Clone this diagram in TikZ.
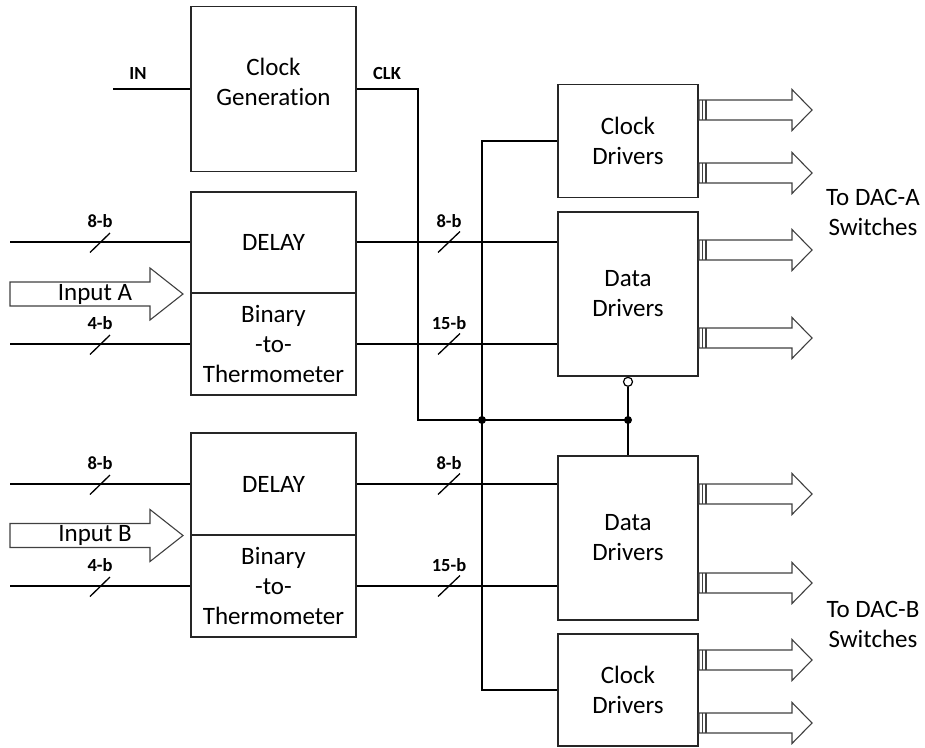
\documentclass[tikz,border=0pt]{standalone}
\usepackage{fontspec}
\setmainfont{Carlito}[Ligatures=NoCommon]
\newcommand\mysizemain{\fontsize{25}{30}\selectfont}
\newcommand\mysizelbl{\fontsize{18.5}{22}\selectfont}
\begin{document}
\begin{tikzpicture}[x=1pt,y=-1pt,
  wire/.style={line width=1.6pt, draw=black},
  tick/.style={line width=1.3pt, draw=black},
  blk/.style={draw=black!85, line width=1.4pt, inner sep=0pt, align=center, font=\mysizemain},
  bus/.style={draw=black!75, line width=1.1pt, fill=white, line join=miter},
  lbl/.style={font=\mysizelbl\bfseries, inner sep=0pt},
  txt/.style={font=\mysizemain, align=center, inner sep=0pt},
  jdot/.style={circle, fill=black, inner sep=0pt, minimum size=8pt},
  bubble/.style={circle, draw=black, line width=1.2pt, fill=white, inner sep=0pt, minimum size=9pt}]
\useasboundingbox (0,0) rectangle (925,747);

% ---------- blocks ----------
\node[blk, minimum width=165pt, minimum height=165pt] (cg) at (273.5,89) {};
\node[txt] (cgt) at (273.5,82) {Clock\\Generation};

\node[blk, minimum width=165pt, minimum height=101pt] (dlA) at (273.5,242.5) {DELAY};
\node[blk, minimum width=165pt, minimum height=102pt] (btA) at (273.5,344) {Binary\\-to-\\Thermometer};
\node[blk, minimum width=165pt, minimum height=102pt] (dlB) at (273.5,484) {DELAY};
\node[blk, minimum width=165pt, minimum height=102pt] (btB) at (273.5,586) {Binary\\-to-\\Thermometer};

\node[blk, minimum width=140pt, minimum height=113pt] (cdA) at (628,141) {Clock\\Drivers};
\node[blk, minimum width=140pt, minimum height=164pt] (ddA) at (628,294) {Data\\Drivers};
\node[blk, minimum width=140pt, minimum height=164pt] (ddB) at (628,538) {Data\\Drivers};
\node[blk, minimum width=140pt, minimum height=112pt] (cdB) at (628,690) {Clock\\Drivers};

% ---------- clock generation ----------
\coordinate (inIN) at (113,89);
\draw[wire] (inIN) -- (cg.west);
\node[lbl] (lIN) at (138,73) {IN};
\node[lbl] (lCLK) at (387,73) {CLK};
\coordinate (clkc) at (418,89);
\coordinate (clkd) at (418,420);
\coordinate (jA) at (482,420);
\coordinate (jB) at (628,420);
\draw[wire] (cg.east) -- (clkc) -- (clkd) -- (jB);
\node[bubble, anchor=north] (bub) at (ddA.south) {};
\draw[wire] (bub.south) -- (jB) -- (ddB.north);
\coordinate (ctop) at (482,141);
\coordinate (cbot) at (482,690);
\draw[wire] (cdA.west) -- (ctop) -- (cbot) -- (cdB.west);
\node[jdot] (dA) at (jA) {};
\node[jdot] (dB) at (jB) {};

% ---------- input side lines ----------
\coordinate (a8) at (10,242);
\coordinate (a4) at (10,344);
\coordinate (b8) at (10,484);
\coordinate (b4) at (10,586);
\draw[wire] (a8) -- (a8 -| dlA.west);
\draw[wire] (a4) -- (btA.west);
\draw[wire] (b8) -- (dlB.west);
\draw[wire] (b4) -- (btB.west);
\draw[wire] (a8 -| dlA.east) -- (a8 -| ddA.west);
\draw[wire] (btA.east) -- (btA.east -| ddA.west);
\draw[wire] (dlB.east) -- (dlB.east -| ddB.west);
\draw[wire] (btB.east) -- (btB.east -| ddB.west);

% bus ticks and labels
\foreach \yy/\tt in {242/8-b, 344/4-b, 484/8-b, 586/4-b}{
  \draw[tick, shift={(100,\yy)}] (-10,10.5) -- (10,-9);
  \node[lbl] at (100,\yy-21) {\tt};
}
\foreach \yy/\tt in {242/8-b, 344/15-b, 484/8-b, 586/15-b}{
  \draw[tick, shift={(449,\yy)}] (-11,10.5) -- (11,-10.5);
  \node[lbl] at (449,\yy-21) {\tt};
}

% ---------- input arrows ----------
\foreach \yy in {294, 535.5}{
  \draw[bus, shift={(10,\yy)}] (0,-12) -- (140,-12) -- (140,-26) -- (173,0) -- (140,26) -- (140,12) -- (0,12) -- cycle;
}
\node[txt] (inA) at (95,294) {Input A};
\node[txt] (inB) at (95,535.5) {Input B};

% ---------- output buses ----------
\foreach \yy in {110, 173, 250, 338, 494, 583, 660, 723}{
  \draw[bus, shift={(699,\yy)}] (0,-10) -- (93,-10) -- (93,-20.5) -- (113,0) -- (93,20.5) -- (93,10) -- (0,10) -- cycle;
  \draw[bus, shift={(699,\yy)}] (3.5,-10) -- (3.5,10) (7,-10) -- (7,10);
}
\node[txt] (toA) at (873,212) {To DAC-A\\Switches};
\node[txt] (toB) at (873,624) {To DAC-B\\Switches};
\end{tikzpicture}
\end{document}
